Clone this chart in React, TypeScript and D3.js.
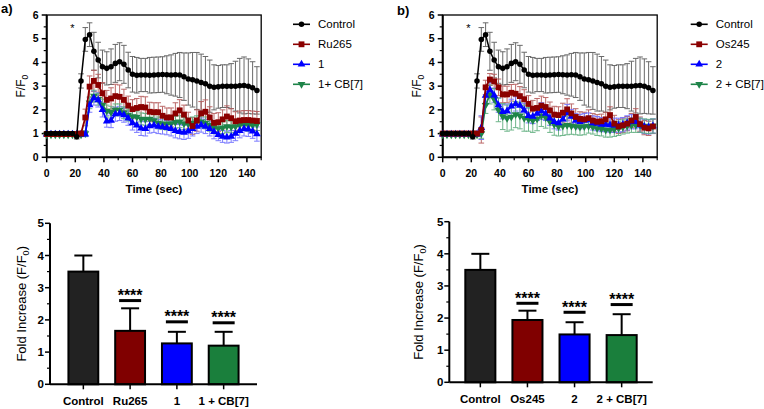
import React from 'react';
import * as d3 from 'd3';

const FONT = "'Liberation Sans', Arial, Helvetica, sans-serif";

const TIME = [0,3,6,9,12,15,18,21,24,27,30,33,36,39,42,45,48,51,54,57,60,63,66,69,72,75,78,81,84,87,90,93,96,99,102,105,108,111,114,117,120,123,126,129,132,135,138,141,144,147];

const CONTROL = [1.0,1.0,1.0,1.0,1.0,1.0,1.0,0.87,3.22,4.97,5.17,4.47,4.1,3.82,3.75,3.82,3.96,4.03,3.92,3.68,3.5,3.46,3.47,3.47,3.46,3.47,3.48,3.49,3.48,3.47,3.48,3.47,3.4,3.3,3.27,3.22,3.15,3.1,3.0,2.95,2.97,3.0,3.0,3.0,3.0,3.02,3.03,3.0,2.93,2.82];
const CONTROL_ERR = [0.08,0.08,0.08,0.08,0.08,0.08,0.08,0.1,0.3,0.5,0.5,0.8,0.75,0.7,0.7,0.75,0.8,0.8,0.8,0.75,0.75,0.75,0.7,0.7,0.75,0.75,0.75,0.75,0.8,0.85,0.9,0.95,1.0,1.1,1.15,1.2,1.2,1.15,1.1,0.95,0.9,0.9,0.9,0.95,1.05,1.15,1.2,1.15,1.1,1.0];

const RU265 = [0.98,0.98,0.98,0.98,0.98,0.98,0.98,0.98,1.0,1.68,2.98,3.22,3.05,2.7,2.42,2.48,2.58,2.55,2.42,2.18,2.03,2.08,2.12,2.1,1.92,1.9,1.9,1.75,1.68,1.68,1.85,1.98,1.8,1.55,1.32,1.55,1.85,1.92,1.68,1.45,1.48,1.6,1.72,1.65,1.52,1.55,1.57,1.57,1.55,1.53];
const RU265_ERR = [0.05,0.05,0.05,0.05,0.05,0.05,0.05,0.05,0.1,0.35,0.45,0.45,0.45,0.45,0.4,0.45,0.5,0.5,0.45,0.4,0.4,0.4,0.45,0.45,0.4,0.4,0.4,0.4,0.4,0.4,0.45,0.45,0.4,0.35,0.35,0.45,0.5,0.5,0.45,0.4,0.4,0.4,0.45,0.4,0.4,0.4,0.4,0.4,0.4,0.4];

const CPD1 = [0.97,0.97,0.97,0.97,0.97,0.97,0.97,0.97,0.97,0.97,2.2,2.5,2.42,2.0,1.52,1.55,1.82,1.85,1.78,1.65,1.45,1.35,1.22,1.2,1.32,1.35,1.3,1.28,1.25,1.2,1.12,1.08,1.05,1.1,1.2,1.3,1.36,1.3,1.2,1.08,0.95,0.88,0.85,0.88,1.0,1.12,1.2,1.18,1.1,0.98];
const CPD1_ERR = [0.06,0.06,0.06,0.06,0.06,0.06,0.06,0.06,0.06,0.1,0.3,0.3,0.3,0.3,0.25,0.3,0.3,0.3,0.3,0.3,0.3,0.3,0.3,0.3,0.3,0.3,0.3,0.3,0.3,0.3,0.3,0.3,0.3,0.3,0.3,0.3,0.3,0.3,0.3,0.3,0.25,0.25,0.25,0.25,0.3,0.3,0.3,0.3,0.3,0.3];

const CPD1_CB7 = [0.95,0.95,0.95,0.95,0.95,0.95,0.95,0.95,0.95,1.0,2.3,2.58,2.45,2.2,1.95,1.9,2.0,2.0,1.88,1.78,1.72,1.7,1.62,1.6,1.62,1.55,1.45,1.42,1.4,1.42,1.48,1.5,1.42,1.4,1.45,1.5,1.5,1.45,1.35,1.25,1.22,1.25,1.3,1.28,1.3,1.35,1.38,1.35,1.35,1.38];
const CPD1_CB7_ERR = [0.06,0.06,0.06,0.06,0.06,0.06,0.06,0.06,0.06,0.12,0.25,0.25,0.25,0.25,0.25,0.25,0.25,0.25,0.25,0.25,0.25,0.25,0.25,0.25,0.25,0.25,0.25,0.25,0.25,0.25,0.25,0.25,0.25,0.25,0.25,0.25,0.25,0.25,0.25,0.25,0.25,0.25,0.25,0.25,0.25,0.25,0.25,0.25,0.25,0.25];

const OS245 = [1.0,1.0,1.0,1.0,1.0,1.0,1.0,1.0,1.0,1.15,2.95,3.28,3.2,2.95,2.65,2.65,2.72,2.68,2.58,2.45,2.25,2.05,2.08,2.18,2.12,1.98,1.8,1.78,1.88,2.02,1.85,1.7,1.62,1.6,1.65,1.55,1.5,1.52,1.6,1.78,1.42,1.3,1.35,1.42,1.55,1.7,1.4,1.25,1.22,1.3];
const OS245_ERR = [0.05,0.05,0.05,0.05,0.05,0.05,0.05,0.05,0.1,0.55,0.3,0.25,0.3,0.35,0.35,0.35,0.35,0.4,0.4,0.4,0.35,0.35,0.4,0.4,0.4,0.35,0.35,0.35,0.4,0.45,0.4,0.35,0.3,0.3,0.35,0.3,0.3,0.3,0.3,0.35,0.35,0.3,0.3,0.3,0.3,0.35,0.3,0.3,0.3,0.3];

const CPD2 = [0.97,0.97,0.97,0.97,0.97,0.97,0.97,0.97,0.97,1.25,2.6,2.85,2.62,2.2,1.92,1.95,2.15,2.25,2.18,1.98,1.75,1.72,1.85,1.95,1.85,1.65,1.5,1.45,1.6,1.88,1.72,1.55,1.5,1.55,1.57,1.45,1.42,1.38,1.38,1.36,1.35,1.35,1.38,1.45,1.5,1.5,1.35,1.3,1.28,1.32];
const CPD2_ERR = [0.05,0.05,0.05,0.05,0.05,0.05,0.05,0.05,0.05,0.5,0.3,0.3,0.3,0.3,0.3,0.3,0.3,0.3,0.3,0.3,0.3,0.3,0.3,0.35,0.3,0.3,0.3,0.3,0.3,0.35,0.3,0.3,0.3,0.3,0.3,0.3,0.3,0.3,0.3,0.3,0.3,0.3,0.3,0.3,0.3,0.3,0.3,0.3,0.3,0.3];

const CPD2_CB7 = [0.95,0.95,0.95,0.95,0.95,0.95,0.95,0.95,0.95,1.0,2.2,2.65,2.45,2.0,1.72,1.65,1.7,1.8,1.75,1.65,1.6,1.55,1.62,1.75,1.68,1.5,1.38,1.3,1.32,1.35,1.32,1.3,1.28,1.3,1.32,1.28,1.22,1.2,1.15,1.15,1.18,1.22,1.28,1.32,1.35,1.35,1.35,1.32,1.3,1.32];
const CPD2_CB7_ERR = [0.06,0.06,0.06,0.06,0.06,0.06,0.06,0.06,0.06,0.2,0.35,0.4,0.45,0.5,0.55,0.55,0.55,0.55,0.55,0.55,0.5,0.5,0.5,0.45,0.45,0.45,0.45,0.4,0.4,0.4,0.35,0.35,0.35,0.35,0.3,0.3,0.3,0.3,0.3,0.3,0.3,0.3,0.3,0.3,0.3,0.3,0.3,0.3,0.3,0.3];

const LEGEND_A = ['Control', 'Ru265', '1', '1+ CB[7]'];
const LEGEND_B = ['Control', 'Os245', '2', '2 + CB[7]'];

const X_TICKS = [0, 20, 40, 60, 80, 100, 120, 140];
const X_MINOR = [10, 30, 50, 70, 90, 110, 130, 150];
const Y_TICKS = [0, 1, 2, 3, 4, 5, 6];
const Y_MINOR = [0.5, 1.5, 2.5, 3.5, 4.5, 5.5];

const BAR_CATS_A = ['Control', 'Ru265', '1', '1 + CB[7]'];
const BAR_VALS_A = [3.5, 1.66, 1.27, 1.2];
const BAR_ERR_A = [0.5, 0.7, 0.36, 0.43];
const BAR_SIG_A = [null, 2.6, 1.94, 1.91];

const BAR_CATS_B = ['Control', 'Os245', '2', '2 + CB[7]'];
const BAR_VALS_B = [3.5, 1.94, 1.49, 1.47];
const BAR_ERR_B = [0.5, 0.29, 0.38, 0.65];
const BAR_SIG_B = [null, 2.46, 2.18, 2.42];

const BAR_Y_TICKS = [0, 1, 2, 3, 4, 5];
const BAR_Y_MINOR = [0.5, 1.5, 2.5, 3.5, 4.5];

const COLORS = ['#000000', '#8b0000', '#0000ff', '#1e8449'];
const ERR_COLORS = ['#5a5a5a', '#b55a5a', '#6f6fff', '#5fae7e'];
const BAR_COLORS = ['#222222', '#800000', '#0000ff', '#1a7f3c'];
const SHAPES = ['circle', 'square', 'triUp', 'triDown'];

function symbolPath(shape: string) {
  if (shape === 'circle') return d3.symbol().type(d3.symbolCircle).size(24)() as string;
  if (shape === 'square') return d3.symbol().type(d3.symbolSquare).size(34)() as string;
  return d3.symbol().type(d3.symbolTriangle).size(26)() as string;
}

function Marker({ shape, x, y, color }: any) {
  const rot = shape === 'triDown' ? ' rotate(180)' : '';
  return <path d={symbolPath(shape)} transform={`translate(${x},${y})${rot}`} fill={color} />;
}

function LinePanel({ left, tag, tagX, tagY, data, errs, legend, legendX, labelX }: any) {
  const x = d3.scaleLinear().domain([0, 150]).range([left, left + 214.5]);
  const y = d3.scaleLinear().domain([0, 6]).range([157.3, 15]);
  const line = d3.line<number>().x((_, i) => x(TIME[i])).y((v) => y(v));
  const order = [3, 2, 1, 0];
  return (
    <g>
      <text x={tagX} y={tagY} fontSize={13} fontWeight="bold" fontFamily={FONT}>{tag}</text>
      <rect x={x(0)} y={y(6)} width={x(150) - x(0)} height={y(0) - y(6)} fill="none" stroke="#000" strokeWidth={1.3} />
      <line x1={x(0)} x2={x(0)} y1={y(6)} y2={y(0)} stroke="#000" strokeWidth={2} />
      <line x1={x(0)} x2={x(150)} y1={y(0)} y2={y(0)} stroke="#000" strokeWidth={2} />
      {Y_TICKS.map((t) => (
        <g key={'y' + t}>
          <line x1={x(0) - 5} x2={x(0)} y1={y(t)} y2={y(t)} stroke="#000" strokeWidth={1.5} />
          <text x={x(0) - 8} y={y(t)} dy="0.35em" textAnchor="end" fontSize={10.5} fontWeight="bold" fontFamily={FONT}>{t}</text>
        </g>
      ))}
      {Y_MINOR.map((t) => (
        <line key={'ym' + t} x1={x(0) - 3} x2={x(0)} y1={y(t)} y2={y(t)} stroke="#000" strokeWidth={1.2} />
      ))}
      {X_TICKS.map((t) => (
        <g key={'x' + t}>
          <line x1={x(t)} x2={x(t)} y1={y(0)} y2={y(0) + 5} stroke="#000" strokeWidth={1.5} />
          <text x={x(t)} y={176.5} textAnchor="middle" fontSize={10.5} fontWeight="bold" fontFamily={FONT}>{t}</text>
        </g>
      ))}
      {X_MINOR.map((t) => (
        <line key={'xm' + t} x1={x(t)} x2={x(t)} y1={y(0)} y2={y(0) + 3} stroke="#000" strokeWidth={1.2} />
      ))}
      <text x={(x(0) + x(150)) / 2} y={193} textAnchor="middle" fontSize={11.5} fontWeight="bold" fontFamily={FONT}>Time (sec)</text>
      <text transform={`translate(${labelX},${(y(0) + y(6)) / 2}) rotate(-90)`} textAnchor="middle" fontSize={12} fontFamily={FONT}>
        F/F<tspan fontSize={8.5} dy={3}>0</tspan>
      </text>
      <text x={x(18)} y={y(5.5) + 5} textAnchor="middle" fontSize={11} fontFamily={FONT}>*</text>
      {[0, 1, 2, 3].map((s) => (
        <g key={'e' + s} stroke={ERR_COLORS[s]} strokeWidth={1} opacity={0.9}>
          {data[s].map((v: number, i: number) => {
            const e = errs[s][i];
            const cx = x(TIME[i]);
            return (
              <g key={i}>
                <line x1={cx} x2={cx} y1={y(v - e)} y2={y(v + e)} />
                <line x1={cx - 2.8} x2={cx + 2.8} y1={y(v - e)} y2={y(v - e)} />
                <line x1={cx - 2.8} x2={cx + 2.8} y1={y(v + e)} y2={y(v + e)} />
              </g>
            );
          })}
        </g>
      ))}
      {order.map((s) => (
        <g key={'l' + s}>
          <path d={line(data[s]) as string} fill="none" stroke={COLORS[s]} strokeWidth={s === 0 ? 1.5 : 1.8} />
          {data[s].map((v: number, i: number) => (
            <Marker key={i} shape={SHAPES[s]} x={x(TIME[i])} y={y(v)} color={COLORS[s]} />
          ))}
        </g>
      ))}
      {legend.map((name: string, s: number) => {
        const ly = 24.3 + s * 20;
        return (
          <g key={'lg' + s}>
            <line x1={legendX} x2={legendX + 17} y1={ly} y2={ly} stroke={COLORS[s]} strokeWidth={1.6} />
            <Marker shape={SHAPES[s]} x={legendX + 8.5} y={ly} color={COLORS[s]} />
            <text x={legendX + 25} y={ly} dy="0.35em" fontSize={11.5} fontFamily={FONT}>{name}</text>
          </g>
        );
      })}
    </g>
  );
}

function BarPanel({ left, right, yBottom, yTop, padOuter, cats, vals, errs, sigs, labelX }: any) {
  const x = d3.scaleBand().domain(cats).range([left, right]).paddingInner(0.362).paddingOuter(padOuter);
  const y = d3.scaleLinear().domain([0, 5]).range([yBottom, yTop]);
  const bw = x.bandwidth();
  return (
    <g>
      {cats.map((c: string, i: number) => {
        const cx = (x(c) as number) + bw / 2;
        const v = vals[i];
        const e = errs[i];
        const sig = sigs[i];
        return (
          <g key={c}>
            <line x1={cx} x2={cx} y1={y(v)} y2={y(v + e)} stroke="#000" strokeWidth={2} />
            <line x1={cx - 9} x2={cx + 9} y1={y(v + e)} y2={y(v + e)} stroke="#000" strokeWidth={2} />
            <rect x={x(c)} y={y(v)} width={bw} height={y(0) - y(v)} fill={BAR_COLORS[i]} stroke="#000" strokeWidth={2} />
            {sig != null && (
              <g>
                <line x1={cx - 11} x2={cx + 11} y1={y(sig)} y2={y(sig)} stroke="#000" strokeWidth={3} />
                <text x={cx} y={y(sig) + 0.5} textAnchor="middle" fontSize={16} fontWeight="bold" fontFamily={FONT}>****</text>
              </g>
            )}
            <line x1={cx} x2={cx} y1={y(0)} y2={y(0) + 5} stroke="#000" strokeWidth={1.5} />
            <text x={cx} y={yBottom + 21} textAnchor="middle" fontSize={11.5} fontWeight="bold" fontFamily={FONT}>{c}</text>
          </g>
        );
      })}
      <line x1={left} x2={left} y1={y(5)} y2={y(0)} stroke="#000" strokeWidth={2} />
      <line x1={left} x2={right} y1={y(0)} y2={y(0)} stroke="#000" strokeWidth={2} />
      {BAR_Y_TICKS.map((t) => (
        <g key={'by' + t}>
          <line x1={left - 5} x2={left} y1={y(t)} y2={y(t)} stroke="#000" strokeWidth={1.5} />
          <text x={left - 6} y={y(t)} dy="0.35em" textAnchor="end" fontSize={11.5} fontWeight="bold" fontFamily={FONT}>{t}</text>
        </g>
      ))}
      {BAR_Y_MINOR.map((t) => (
        <line key={'bym' + t} x1={left - 3} x2={left} y1={y(t)} y2={y(t)} stroke="#000" strokeWidth={1.2} />
      ))}
      <text transform={`translate(${labelX},${(y(0) + y(5)) / 2}) rotate(-90)`} textAnchor="middle" fontSize={13} fontFamily={FONT}>
        Fold Increase (F/F<tspan fontSize={9} dy={3}>0</tspan><tspan dy={-3}>)</tspan>
      </text>
    </g>
  );
}

export default function App() {
  return (
    <svg width={764} height={409} style={{ position: 'absolute', left: 0, top: 0, background: '#fff' }}>
      <rect width={764} height={409} fill="#fff" />
      <LinePanel left={46.7} tag="a)" tagX={1} tagY={13} legendX={293} labelX={24.5}
        data={[CONTROL, RU265, CPD1, CPD1_CB7]} errs={[CONTROL_ERR, RU265_ERR, CPD1_ERR, CPD1_CB7_ERR]} legend={LEGEND_A} />
      <LinePanel left={442.7} tag="b)" tagX={397} tagY={15} legendX={690.7} labelX={420.5}
        data={[CONTROL, OS245, CPD2, CPD2_CB7]} errs={[CONTROL_ERR, OS245_ERR, CPD2_ERR, CPD2_CB7_ERR]} legend={LEGEND_B} />
      <BarPanel left={50} right={257} yBottom={384.3} yTop={223.3} padOuter={0.394} labelX={25.7}
        cats={BAR_CATS_A} vals={BAR_VALS_A} errs={BAR_ERR_A} sigs={BAR_SIG_A} />
      <BarPanel left={449.3} right={652.7} yBottom={382.3} yTop={221.7} padOuter={0.34} labelX={422.7}
        cats={BAR_CATS_B} vals={BAR_VALS_B} errs={BAR_ERR_B} sigs={BAR_SIG_B} />
    </svg>
  );
}
